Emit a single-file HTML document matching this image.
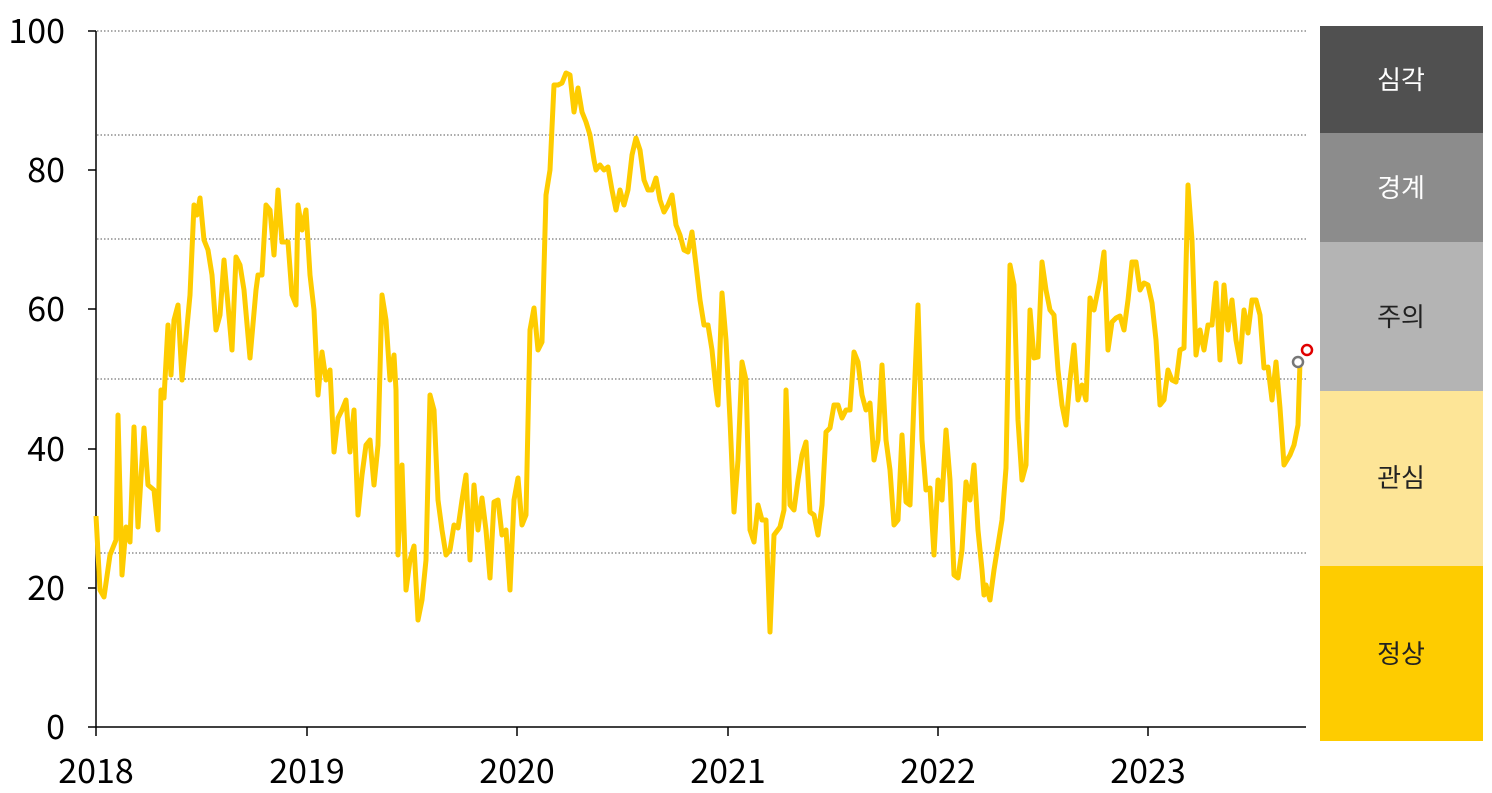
<!DOCTYPE html>
<html><head><meta charset="utf-8"><style>
html,body{margin:0;padding:0;background:#fff;}
svg{display:block;}
text{font-family:"Noto Sans CJK KR","Liberation Sans",sans-serif;}
</style></head><body>
<svg width="1492" height="793" viewBox="0 0 1492 793">
<g stroke="#555" stroke-width="1" stroke-dasharray="1.5,2" fill="none">
<line x1="97" y1="31" x2="1306" y2="31"/>
<line x1="97" y1="135" x2="1306" y2="135"/>
<line x1="97" y1="239" x2="1306" y2="239"/>
<line x1="97" y1="379" x2="1306" y2="379"/>
<line x1="97" y1="553" x2="1306" y2="553"/>
</g>
<g stroke="#000" stroke-width="1.5">
<line x1="96" y1="31" x2="96" y2="727"/>
<line x1="96" y1="727" x2="1306" y2="727"/>
<line x1="88" y1="31" x2="96" y2="31"/>
<line x1="88" y1="170" x2="96" y2="170"/>
<line x1="88" y1="309" x2="96" y2="309"/>
<line x1="88" y1="449" x2="96" y2="449"/>
<line x1="88" y1="588" x2="96" y2="588"/>
<line x1="88" y1="727" x2="96" y2="727"/>
<line x1="96" y1="727" x2="96" y2="736"/>
<line x1="307" y1="727" x2="307" y2="736"/>
<line x1="517" y1="727" x2="517" y2="736"/>
<line x1="728" y1="727" x2="728" y2="736"/>
<line x1="938" y1="727" x2="938" y2="736"/>
<line x1="1148" y1="727" x2="1148" y2="736"/>
</g>
<g font-size="34" fill="#000" text-anchor="end">
<text x="65" y="43">100</text>
<text x="65" y="182">80</text>
<text x="65" y="321">60</text>
<text x="65" y="461">40</text>
<text x="65" y="600">20</text>
<text x="65" y="739">0</text>
</g>
<g font-size="34" fill="#000" text-anchor="middle">
<text x="96" y="783">2018</text>
<text x="307" y="783">2019</text>
<text x="517" y="783">2020</text>
<text x="728" y="783">2021</text>
<text x="938" y="783">2022</text>
<text x="1148" y="783">2023</text>
</g>
<polyline fill="none" stroke="#fecc00" stroke-width="5" stroke-linejoin="round" points="96,516 100,590 104,597 110,555 116,540 118,415 122,575 126,527 130,542 134,427 138,527 144,428 148,485 154,490 158,530 161,390 164,398 168,325 171,375 174,320 178,305 182,380 190,295 194,205 197,215 200,198 204,240 208,250 212,275 216,330 220,315 224,260 228,305 232,350 236,257 240,265 244,290 250,358 256,290 258,275 262,275 264,240 266,205 270,210 274,255 278,190 282,242 288,242 292,295 296,305 298,205 302,230 306,210 310,275 314,310 318,395 322,352 326,380 330,370 334,452 338,418 342,410 346,400 350,452 354,410 358,515 362,475 366,445 370,440 374,485 378,445 382,295 386,320 390,380 394,355 396,390 398,555 402,465 406,590 410,560 414,546 418,620 422,600 426,560 430,395 434,410 438,500 442,530 446,555 450,550 454,525 458,528 462,500 466,475 470,560 474,485 478,530 482,498 486,530 490,578 494,502 498,500 502,535 506,530 510,590 514,500 518,478 522,525 526,515 530,330 534,308 538,350 542,342 546,195 550,170 554,85 558,85 562,83 566,73 570,75 574,112 578,88 582,112 586,122 590,135 594,160 596,170 600,165 604,170 608,167 612,190 616,210 620,190 624,205 628,190 632,155 636,138 640,150 644,180 648,190 652,190 656,178 660,200 664,212 668,205 672,195 676,225 680,235 684,250 688,252 692,232 696,265 700,300 704,325 708,325 712,350 716,390 718,405 722,293 726,340 730,420 734,512 738,460 742,362 746,380 750,530 754,542 758,505 762,520 766,520 770,632 774,535 780,527 784,510 786,390 790,505 794,510 798,480 802,455 806,442 810,512 814,515 818,535 822,505 826,432 830,428 834,405 838,405 842,418 846,410 850,410 854,352 858,362 862,395 866,410 870,403 874,460 878,440 882,365 886,440 890,470 894,525 898,520 902,435 906,502 910,505 914,400 918,305 922,440 926,490 930,488 934,555 938,480 942,500 946,430 950,480 954,575 958,578 962,550 966,482 970,500 974,465 978,530 982,570 984,595 986,585 990,600 994,570 998,545 1002,520 1006,468 1010,265 1014,285 1018,420 1022,480 1026,465 1030,310 1034,358 1038,357 1042,262 1046,290 1050,310 1054,315 1058,370 1062,405 1066,425 1070,380 1074,345 1078,400 1082,385 1086,400 1090,298 1094,310 1100,280 1104,252 1108,350 1112,322 1116,318 1120,316 1124,330 1128,300 1132,262 1136,262 1140,290 1144,283 1148,285 1152,303 1156,340 1160,405 1164,400 1168,370 1172,380 1176,382 1180,350 1184,348 1188,185 1192,240 1196,355 1200,330 1204,350 1208,325 1212,325 1216,283 1220,360 1224,285 1228,330 1232,300 1236,340 1240,362 1244,310 1248,333 1252,300 1256,300 1260,315 1264,368 1268,367 1272,400 1276,362 1280,408 1284,465 1290,455 1294,445 1298,425 1300,362"/>
<circle cx="1298" cy="362" r="5" fill="#fff" stroke="#777" stroke-width="2.5"/>
<circle cx="1307" cy="350" r="5" fill="#fff" stroke="#e00000" stroke-width="2.5"/>
<rect x="1320" y="26" width="163" height="107" fill="#505050"/>
<rect x="1320" y="133" width="163" height="109" fill="#8c8c8c"/>
<rect x="1320" y="242" width="163" height="149" fill="#b4b4b4"/>
<rect x="1320" y="391" width="163" height="175" fill="#fde597"/>
<rect x="1320" y="566" width="163" height="175" fill="#fecc00"/>
<g font-size="26" text-anchor="middle">
<text x="1401" y="89" fill="#fff">심각</text>
<text x="1401" y="197" fill="#fff">경계</text>
<text x="1401" y="326" fill="#222">주의</text>
<text x="1401" y="487" fill="#222">관심</text>
<text x="1401" y="663" fill="#222">정상</text>
</g>
</svg>
</body></html>
